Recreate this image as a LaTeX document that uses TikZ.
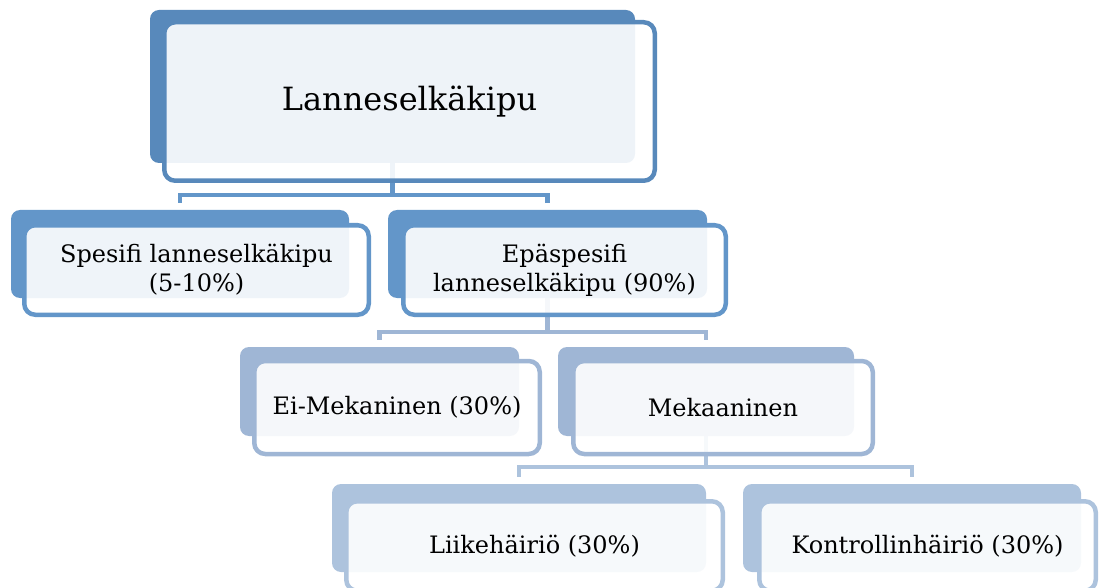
\documentclass[tikz,border=0pt]{standalone}
\usepackage{fontspec}
\setmainfont{DejaVu Serif}
\usetikzlibrary{backgrounds}
\definecolor{LvlA}{RGB}{88,137,187}
\definecolor{LvlB}{RGB}{99,150,201}
\definecolor{LvlC}{RGB}{159,182,213}
\definecolor{LvlD}{RGB}{173,195,221}

\begin{document}
\begin{tikzpicture}[x=1pt,y=-1pt,back/.style={rectangle,rounded corners=9pt,fill=#1,inner sep=0pt},card/.style={rectangle,rounded corners=11pt,draw=#1,line width=4.5pt,fill=white,fill opacity=.9,text opacity=1,align=center,inner sep=0pt,font=\fontsize{24}{29}\selectfont},link/.style={draw=#1,line width=4.5pt}]
\useasboundingbox (0,0) rectangle (1100,588);
% level 1
\node[back=LvlA,minimum width=485pt,minimum height=153pt](lanb) at (392.5,86.5){};
\node[card=LvlA,minimum width=490.5pt,minimum height=158.5pt,font=\fontsize{32}{38}\selectfont](lan) at (409.5,101.5){Lanneselkäkipu};
% level 2
\node[back=LvlB,minimum width=338pt,minimum height=88pt](spesb) at (180,254){};
\node[card=LvlB,minimum width=344.5pt,minimum height=89.5pt](spes) at (196.5,270){Spesifi lanneselkäkipu\\(5-10\%)};
\node[back=LvlB,minimum width=319pt,minimum height=88pt](epasb) at (547.5,254){};
\node[card=LvlB,minimum width=322.5pt,minimum height=89.5pt](epas) at (564.5,270){Epäspesifi\\lanneselkäkipu (90\%)};
% level 3
\node[back=LvlC,minimum width=279pt,minimum height=89pt](eimb) at (379.5,391.5){};
\node[card=LvlC,minimum width=285.5pt,minimum height=93pt](eim) at (397,407.5){Ei-Mekaninen (30\%)};
\node[back=LvlC,minimum width=296pt,minimum height=89pt](mekb) at (706,391.5){};
\node[card=LvlC,minimum width=299.5pt,minimum height=93pt](mek) at (723,407.5){Mekaaninen};
% level 4
\node[back=LvlD,minimum width=374pt,minimum height=88pt](liikb) at (519,528){};
\node[card=LvlD,minimum width=376.5pt,minimum height=89.5pt](liik) at (534.5,546){Liikehäiriö (30\%)};
\node[back=LvlD,minimum width=338pt,minimum height=88pt](kontb) at (912,528){};
\node[card=LvlD,minimum width=336.5pt,minimum height=89.5pt](kont) at (927.5,546){Kontrollinhäiriö (30\%)};
% connectors
\begin{pgfonlayer}{background}
\coordinate(j1) at (392.5,195);
\coordinate(j2) at (547.5,332);
\coordinate(j3) at (706,467);
\foreach \up/\lt/\rt/\jn/\col in {lanb/spesb/epasb/j1/LvlB,epasb/eimb/mekb/j2/LvlC,mekb/liikb/kontb/j3/LvlD}{
\draw[link=\col](\up.south)--(\jn);
\draw[link=\col]([yshift=7pt]\lt.north)|-(\jn)-|([yshift=7pt]\rt.north);}
\end{pgfonlayer}
\end{tikzpicture}
\end{document}
